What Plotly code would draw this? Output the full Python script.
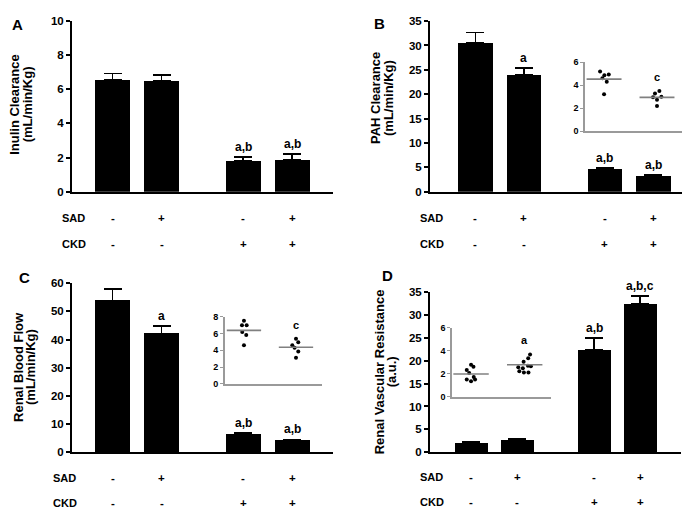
import plotly.graph_objects as go

W, H = 690, 510
FONT = "Liberation Sans, Arial, sans-serif"

# ---------------- data ----------------
positions = [1, 2, 3.67, 4.67]
sad_row = ["-", "+", "-", "+"]
ckd_row = ["-", "-", "+", "+"]

inulin = [6.57, 6.46, 1.81, 1.89]
inulin_err = [0.35, 0.36, 0.21, 0.32]
inulin_sig = ["", "", "a,b", "a,b"]

pah = [30.45, 23.98, 4.70, 3.15]
pah_err = [2.2, 1.4, 0.25, 0.2]
pah_sig = ["", "a", "a,b", "a,b"]

rbf = [53.9, 42.1, 6.6, 4.4]
rbf_err = [4.0, 2.6, 0.3, 0.2]
rbf_sig = ["", "a", "a,b", "a,b"]

rvr = [2.2, 2.8, 22.4, 32.3]
rvr_err = [0.1, 0.15, 2.5, 1.7]
rvr_sig = ["", "", "a,b", "a,b,c"]

# insets (individual points)
pah_in_g1 = [5.18, 4.86, 4.92, 4.60, 4.30, 3.20]
pah_in_g1_jit = [-0.075, 0.006, 0.089, -0.032, 0.051, 0.0]
pah_in_g2 = [3.28, 3.50, 2.94, 3.00, 2.74, 2.18]
pah_in_g2_jit = [-0.038, 0.045, -0.075, 0.083, 0.0, 0.0]
pah_in_mean = [4.52, 2.94]
pah_in_sig = ["", "c"]

rbf_in_g1 = [7.53, 6.99, 6.99, 6.17, 5.82, 4.59]
rbf_in_g1_jit = [0.0, -0.038, 0.052, -0.033, 0.044, 0.0]
rbf_in_g2 = [5.36, 4.94, 4.59, 4.31, 3.84, 3.11]
rbf_in_g2_jit = [0.0, 0.044, -0.071, -0.027, 0.044, 0.0]
rbf_in_mean = [6.37, 4.35]
rbf_in_sig = ["", "c"]

rvr_in_g1 = [2.78, 2.60, 2.32, 2.07, 1.72, 1.50, 1.36, 1.50]
rvr_in_g1_jit = [0.0, 0.045, -0.08, -0.035, 0.05, -0.08, 0.0, 0.075]
rvr_in_g2 = [3.68, 3.05, 3.34, 2.57, 2.49, 2.69, 2.66, 2.21, 2.10, 2.10]
rvr_in_g2_jit = [0.1, -0.02, 0.065, -0.12, -0.035, 0.06, 0.115, -0.1, -0.015, 0.07]
rvr_in_mean = [1.98, 2.78]
rvr_in_sig = ["", "a"]


def px(x):
    return x / W


def py(y):
    return 1 - y / H


fig = go.Figure()
annotations = []

panels = [
    dict(v=inulin, e=inulin_err, s=inulin_sig, ymax=10, dt=2, xd=(64, 325), yd=(182, 7),
         xr=(0.173, 5.5), bw=0.71, letter="A", lpos=(9.5, 11),
         t1="Inulin Clearance", t2="(mL/min/Kg)", tx=(7, 19.5), ty=93,
         rows=(209, 235.5), rowx=52),
    dict(v=pah, e=pah_err, s=pah_sig, ymax=35, dt=5, xd=(422, 687), yd=(182, 7.3),
         xr=(0.062, 5.53), bw=0.71, letter="B", lpos=(371.7, 10),
         t1="PAH Clearance", t2="(mL/min/Kg)", tx=(368, 381), ty=86,
         rows=(209, 235.5), rowx=410),
    dict(v=rbf, e=rbf_err, s=rbf_sig, ymax=60, dt=10, xd=(64, 325), yd=(449, 275.7),
         xr=(0.173, 5.5), bw=0.71, letter="C", lpos=(16, 270),
         t1="Renal Blood Flow", t2="(mL/min/Kg)", tx=(10.5, 22.5), ty=362,
         rows=(475, 500.5), rowx=43),
    dict(v=rvr, e=rvr_err, s=rvr_sig, ymax=35, dt=5, xd=(422, 673), yd=(449, 284.3),
         xr=(0.102, 5.56), bw=0.72, letter="D", lpos=(379.7, 268),
         t1="Renal Vascular Resistance", t2="(a.u.)", tx=(371, 383), ty=367,
         rows=(474, 500), rowx=410),
]

tickf = dict(family=FONT, size=11.5, color="black", weight="bold")

for i, p in enumerate(panels, start=1):
    xa = "x" if i == 1 else f"x{i}"
    ya = "y" if i == 1 else f"y{i}"
    fig.add_trace(go.Bar(
        x=positions, y=p["v"], width=p["bw"], marker=dict(color="black", line=dict(width=0)),
        error_y=dict(type="data", array=p["e"], arrayminus=[0] * 4, symmetric=False,
                     color="black", thickness=1.8, width=9),
        xaxis=xa, yaxis=ya, showlegend=False, hoverinfo="skip"))
    xkey = "xaxis" if i == 1 else f"xaxis{i}"
    ykey = "yaxis" if i == 1 else f"yaxis{i}"
    fig.layout[xkey] = dict(domain=[px(p["xd"][0]), px(p["xd"][1])], range=list(p["xr"]),
                            anchor=ya, showline=True, linecolor="black", linewidth=2,
                            ticks="", showticklabels=False, showgrid=False, zeroline=False,
                            fixedrange=True)
    fig.layout[ykey] = dict(domain=[py(p["yd"][0]), py(p["yd"][1])], range=[0, p["ymax"]],
                            anchor=xa, showline=True, linecolor="black", linewidth=2,
                            ticks="outside", ticklen=4, tickwidth=1.8, tickcolor="black",
                            dtick=p["dt"], tick0=0, showgrid=False, zeroline=False,
                            tickfont=tickf, fixedrange=True)
    for xv, yv, ev, s in zip(positions, p["v"], p["e"], p["s"]):
        if s:
            annotations.append(dict(x=xv, y=yv + ev, xref=xa, yref=ya, text=s,
                                    showarrow=False, yanchor="middle", yshift=10,
                                    font=dict(family=FONT, size=12, color="black", weight="bold")))
    for lab, row, yy in (("SAD", sad_row, p["rows"][0]), ("CKD", ckd_row, p["rows"][1])):
        annotations.append(dict(x=px(p["rowx"]), y=py(yy), xref="paper", yref="paper",
                                text=lab, showarrow=False, xanchor="left", yanchor="middle",
                                font=dict(family=FONT, size=11, color="black", weight="bold")))
        for xv, sym in zip(positions, row):
            annotations.append(dict(x=xv, y=py(yy), xref=xa, yref="paper", text=sym,
                                    showarrow=False, xanchor="center", yanchor="middle",
                                    font=dict(family=FONT, size=11.5, color="black", weight="bold")))
    annotations.append(dict(x=px(p["lpos"][0]), y=py(p["lpos"][1]), xref="paper", yref="paper",
                            text=p["letter"], showarrow=False, xanchor="center", yanchor="middle",
                            font=dict(family=FONT, size=15, color="black", weight="bold")))
    for txt, xx in ((p["t1"], p["tx"][0]), (p["t2"], p["tx"][1])):
        annotations.append(dict(x=px(xx), y=py(p["ty"]), xref="paper", yref="paper",
                                text=txt, textangle=-90, showarrow=False,
                                xanchor="center", yanchor="middle",
                                font=dict(family=FONT, size=13, color="black", weight="bold")))

insets = [
    dict(g1=pah_in_g1, j1=pah_in_g1_jit, g2=pah_in_g2, j2=pah_in_g2_jit, m=pah_in_mean,
         s=pah_in_sig, ymax=6, xd=(577, 676), yd=(120, 49.3), xr=(0.64, 2.51)),
    dict(g1=rbf_in_g1, j1=rbf_in_g1_jit, g2=rbf_in_g2, j2=rbf_in_g2_jit, m=rbf_in_mean,
         s=rbf_in_sig, ymax=8, xd=(216.7, 314), yd=(378.7, 310), xr=(0.63, 2.5)),
    dict(g1=rvr_in_g1, j1=rvr_in_g1_jit, g2=rvr_in_g2, j2=rvr_in_g2_jit, m=rvr_in_mean,
         s=rvr_in_sig, ymax=6, xd=(444, 543), yd=(392, 321.3), xr=(0.645, 2.49)),
]

GRAY = "#9a9a9a"
for k, q in enumerate(insets, start=5):
    xa, ya = f"x{k}", f"y{k}"
    for gi, (vals, jit) in enumerate(((q["g1"], q["j1"]), (q["g2"], q["j2"])), start=1):
        fig.add_trace(go.Scatter(x=[gi + j for j in jit], y=vals, mode="markers",
                                 marker=dict(color="black", size=4),
                                 xaxis=xa, yaxis=ya, showlegend=False, hoverinfo="skip"))
        fig.add_trace(go.Scatter(x=[gi - 0.33, gi + 0.33], y=[q["m"][gi - 1]] * 2, mode="lines",
                                 line=dict(color="#808080", width=1.6),
                                 xaxis=xa, yaxis=ya, showlegend=False, hoverinfo="skip"))
        if q["s"][gi - 1]:
            annotations.append(dict(x=gi, y=max(vals), xref=xa, yref=ya, text=q["s"][gi - 1],
                                    showarrow=False, yanchor="middle", yshift=14,
                                    font=dict(family=FONT, size=11, color="black", weight="bold")))
    fig.layout[f"xaxis{k}"] = dict(domain=[px(q["xd"][0]), px(q["xd"][1])], range=list(q["xr"]),
                                   anchor=ya, showline=True, linecolor=GRAY, linewidth=2,
                                   ticks="", showticklabels=False, showgrid=False,
                                   zeroline=False, fixedrange=True)
    fig.layout[f"yaxis{k}"] = dict(domain=[py(q["yd"][0]), py(q["yd"][1])], range=[0, q["ymax"]],
                                   anchor=xa, showline=True, linecolor=GRAY, linewidth=1.5,
                                   ticks="outside", ticklen=3, tickwidth=1, tickcolor=GRAY,
                                   dtick=2, tick0=0, showgrid=False, zeroline=False,
                                   tickfont=dict(family=FONT, size=9, color="black", weight="bold"),
                                   fixedrange=True)

fig.update_layout(width=W, height=H, margin=dict(l=0, r=0, t=0, b=0),
                  paper_bgcolor="white", plot_bgcolor="rgba(0,0,0,0)",
                  annotations=annotations, bargap=0)
fig.write_html("out.html")
